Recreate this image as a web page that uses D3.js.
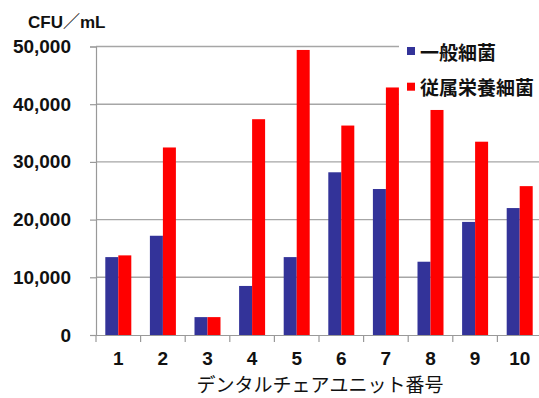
<!DOCTYPE html>
<html><head><meta charset="utf-8">
<script src="https://cdn.jsdelivr.net/npm/d3@7/dist/d3.min.js"></script>
<style>
html,body{margin:0;padding:0;background:#fff;overflow:hidden;}
svg{display:block;}
</style>
</head><body>
<script>
const units = ["1","2","3","4","5","6","7","8","9","10"];
const generalBacteria = [13500,17200,3100,8500,13500,28200,25300,12700,19600,22000];
const heterotrophic = [13800,32500,3100,37400,49400,36300,42900,39000,33500,25800];
const seriesNames = ["一般細菌","従属栄養細菌"];
const seriesColors = ["#333399","#ff0000"];
const yTicks = [0,10000,20000,30000,40000,50000];
const yUnit = "CFU／mL";
const xTitle = "デンタルチェアユニット番号";

const W = 539, H = 398;
const svg = d3.select("body").append("svg").attr("width",W).attr("height",H);
const latin = "'Liberation Sans', Arial, 'Noto Sans CJK JP', sans-serif";
const cjk = "'Noto Sans CJK JP', sans-serif";

const plot = {left:96, right:542, top:46.5, bottom:335};
const x = d3.scaleBand().domain(units).range([plot.left, plot.right]).padding(0);
const y = d3.scaleLinear().domain([0,50000]).range([plot.bottom, plot.top]);
const inner = d3.scaleBand().domain([0,1]).range([-13,13]).padding(0);

// gridlines
svg.append("g").selectAll("line").data(yTicks.filter(d=>d>0)).join("line")
  .attr("x1",plot.left).attr("x2",W+5)
  .attr("y1",d=>y(d)).attr("y2",d=>y(d))
  .attr("stroke","#a6a6a6").attr("stroke-width",1.4);

// legend background covering gridlines
svg.append("rect").attr("x",399).attr("y",30).attr("width",150).attr("height",77).attr("fill","#fff");

// bars
const data = units.map((u,i)=>({u, vals:[generalBacteria[i], heterotrophic[i]]}));
const g = svg.append("g");
data.forEach(d=>{
  const cx = x(d.u) + x.bandwidth()/2;
  d.vals.forEach((v,k)=>{
    g.append("rect")
      .attr("x", cx + inner(k))
      .attr("y", y(v))
      .attr("width", inner.bandwidth())
      .attr("height", y(0)-y(v))
      .attr("fill", seriesColors[k]);
  });
});

// y axis
const yAxis = d3.axisLeft(y).tickValues(yTicks).tickSize(6).tickPadding(19)
  .tickFormat(d3.format(","));
const ya = svg.append("g").attr("transform",`translate(${plot.left},0)`).call(yAxis);
ya.select(".domain").attr("stroke","#999").attr("stroke-width",1.2);
ya.selectAll(".tick line").attr("stroke","#999").attr("stroke-width",1.2);
ya.selectAll("text").attr("font-family",latin).attr("font-weight","bold")
  .attr("font-size",19).attr("fill","#111");

// x axis
const xa = svg.append("g").attr("transform",`translate(0,${plot.bottom})`)
  .call(d3.axisBottom(x).tickSize(0).tickPadding(17));
xa.select(".domain").attr("stroke","#999").attr("stroke-width",1.2);
xa.selectAll("text").attr("font-family",latin).attr("font-weight","bold")
  .attr("font-size",19).attr("fill","#111");
// x tick marks at band boundaries
xa.append("g").selectAll("line").data(units).join("line")
  .attr("x1",d=>x(d)).attr("x2",d=>x(d)).attr("y1",0).attr("y2",7)
  .attr("stroke","#999").attr("stroke-width",1.2);

// y unit label
svg.append("text").attr("x",28).attr("y",27.5).text(yUnit)
  .attr("font-family",latin).attr("font-weight","bold").attr("font-size",17).attr("fill","#111");

// x title
svg.append("text").attr("x",320).attr("y",392).attr("text-anchor","middle").text(xTitle)
  .attr("font-family",cjk).attr("font-size",19).attr("fill","#111");

// legend
const lg = svg.append("g");
seriesNames.forEach((n,i)=>{
  const cy = i===0 ? 51 : 86.7;
  lg.append("rect").attr("x",407).attr("y",cy-4).attr("width",8).attr("height",8).attr("fill",seriesColors[i]);
  lg.append("text").attr("x",420).attr("y",cy).attr("dominant-baseline","central").text(n)
    .attr("font-family",cjk).attr("font-weight","bold").attr("font-size",19).attr("fill","#111");
});
</script>
</body></html>
